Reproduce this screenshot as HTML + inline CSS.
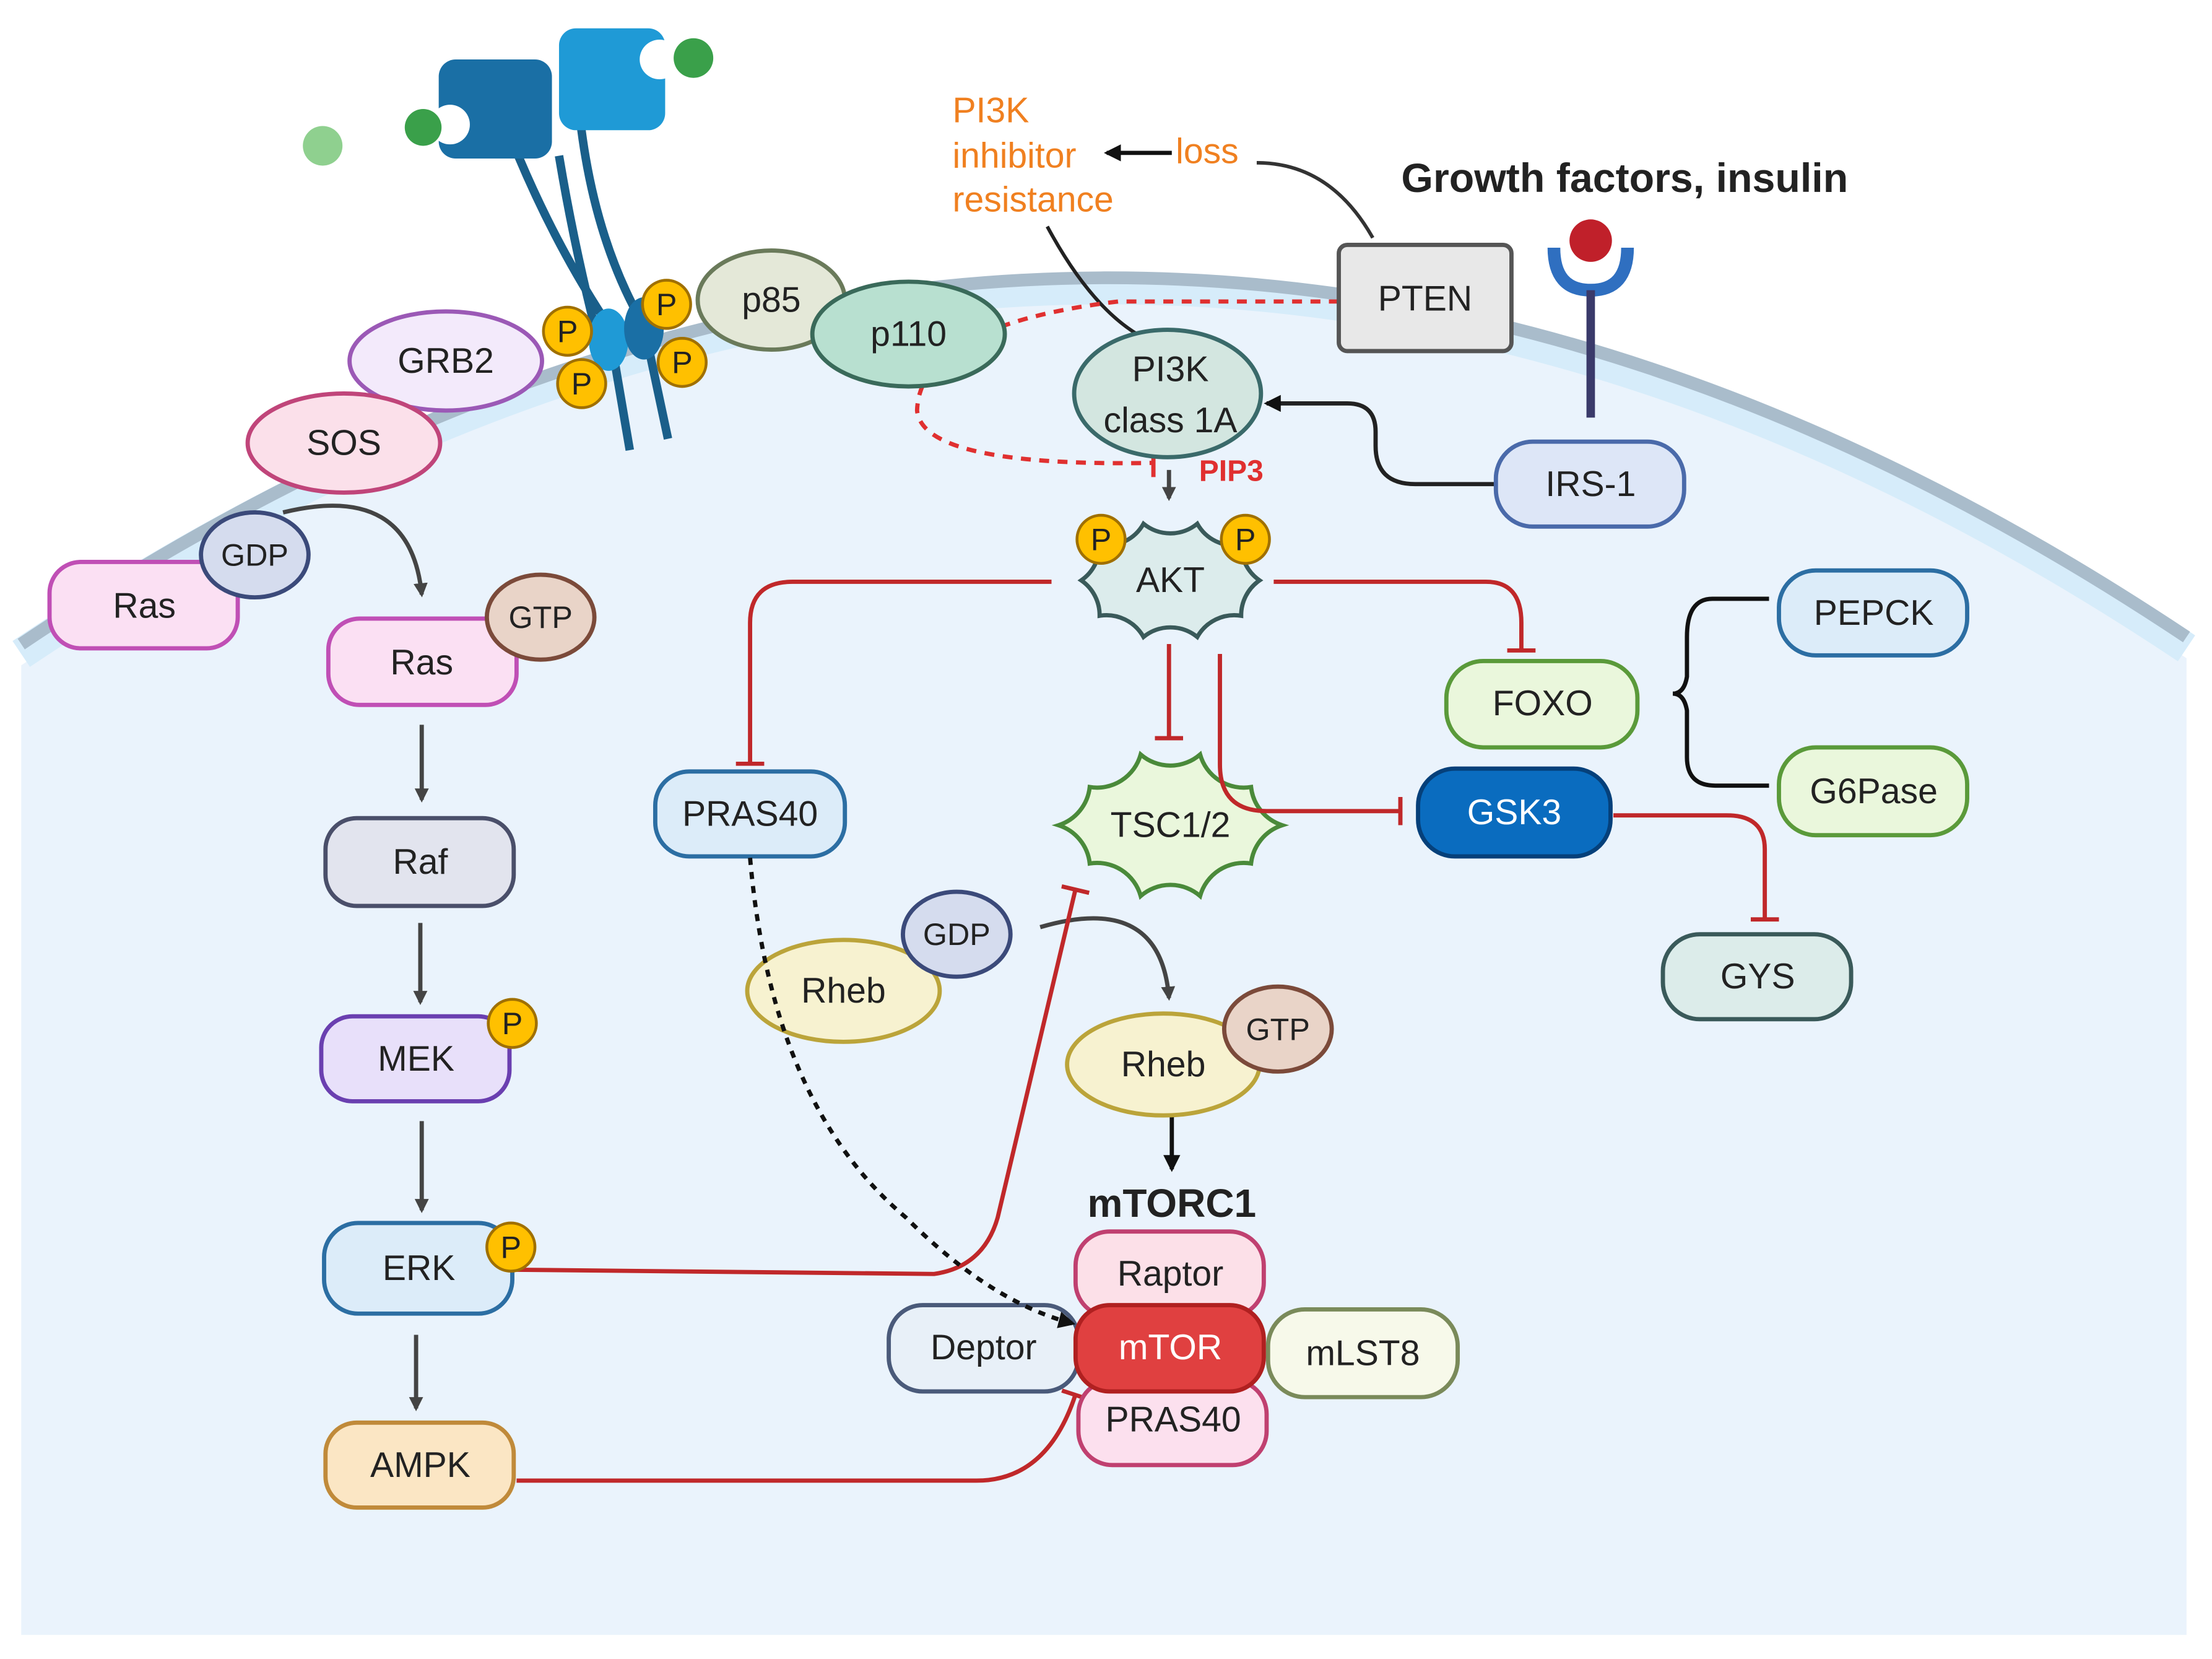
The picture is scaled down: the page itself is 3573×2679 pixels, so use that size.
<!DOCTYPE html>
<html><head><meta charset="utf-8"><style>
html,body{margin:0;padding:0;background:#fff}
svg{display:block}
text{font-family:"Liberation Sans",sans-serif;font-size:25px;fill:#222;text-anchor:middle;dominant-baseline:central}
</style></head><body>
<svg width="3573" height="2679" viewBox="0 0 1563 1172" preserveAspectRatio="none" xmlns="http://www.w3.org/2000/svg">
<defs>
<marker id="ag" markerWidth="10" markerHeight="10" refX="8" refY="5" orient="auto" markerUnits="userSpaceOnUse"><path d="M0,0 L10,5 L0,10 Z" fill="#444"/></marker>
<marker id="ak" markerWidth="12" markerHeight="12" refX="10" refY="6" orient="auto" markerUnits="userSpaceOnUse"><path d="M0,0 L12,6 L0,12 Z" fill="#111"/></marker>
<marker id="bar" markerWidth="4" markerHeight="20" refX="2" refY="10" orient="auto" markerUnits="userSpaceOnUse"><rect x="0" y="0" width="3" height="20" fill="#c0282a"/></marker>
</defs>
<rect width="1563" height="1172" fill="#fff"/>
<path d="M15,470 Q780,-45 1545,465 L1545,1155 L15,1155 Z" fill="#eaf3fc"/>
<path d="M15,462 Q780,-52 1545,458" fill="none" stroke="#d6ecfa" stroke-width="22"/>
<path d="M15,455 Q780,-60 1545,450" fill="none" stroke="#a9bccb" stroke-width="9"/>

<g stroke="#1a5f8a" stroke-width="6" fill="none">
<path d="M360,95 Q390,170 430,230 L445,318"/><path d="M410,85 Q420,170 455,230 L472,310"/>
<path d="M395,110 Q405,170 420,230"/>
</g>
<rect x="310" y="42" width="80" height="70" rx="12" fill="#1a6fa5"/>
<rect x="395" y="20" width="75" height="72" rx="12" fill="#1f9ad6"/>
<circle cx="318" cy="88" r="14" fill="#fff"/><circle cx="466" cy="42" r="14" fill="#fff"/>
<ellipse cx="430" cy="240" rx="14" ry="22" fill="#1f9ad6"/><ellipse cx="455" cy="232" rx="14" ry="22" fill="#1a6fa5"/>
<circle cx="228" cy="103" r="14" fill="#8fd08f"/><circle cx="299" cy="90" r="13" fill="#3aa04a"/><circle cx="490" cy="41" r="14" fill="#3aa04a"/>

<path d="M1098,175 Q1098,205 1124,205 Q1150,205 1150,175" fill="none" stroke="#2f6fc0" stroke-width="9"/>
<line x1="1124" y1="205" x2="1124" y2="295" stroke="#3a3a6a" stroke-width="6"/>
<circle cx="1124" cy="170" r="15" fill="#c0202a"/>
<text x="1148" y="126" style="font-weight:bold;font-size:29px">Growth factors, insulin</text>

<text x="673" y="78" style="text-anchor:start;fill:#f08020">PI3K</text>
<text x="673" y="110" style="text-anchor:start;fill:#f08020">inhibitor</text>
<text x="673" y="141" style="text-anchor:start;fill:#f08020">resistance</text>
<text x="853" y="107" style="fill:#f08020">loss</text>
<line x1="828" y1="108" x2="782" y2="108" stroke="#111" stroke-width="3" marker-end="url(#ak)"/>
<path d="M970,168 Q940,115 888,115" fill="none" stroke="#333" stroke-width="2.5"/>
<path d="M740,160 Q775,225 815,242" fill="none" stroke="#222" stroke-width="2.5"/>

<g stroke="#444" stroke-width="3" fill="none" marker-end="url(#ag)">
<path d="M200,362 Q290,340 298,420"/>
<path d="M298,512 L298,565"/><path d="M297,652 L297,708"/><path d="M298,792 L298,855"/><path d="M294,943 L294,995"/>
<path d="M735,655 Q820,630 826,705"/>
<path d="M826,332 L826,352"/>
</g>
<path d="M828,775 L828,826" stroke="#111" stroke-width="3" marker-end="url(#ak)"/>
<path d="M1057,342 L1000,342 Q972,342 972,315 L972,305 Q972,285 952,285 L895,285" fill="none" stroke="#222" stroke-width="3" marker-end="url(#ak)"/>

<g stroke="#c0282a" stroke-width="3" fill="none" marker-end="url(#bar)">
<path d="M743,411 L560,411 Q530,411 530,440 L530,540"/>
<path d="M900,411 L1050,411 Q1075,411 1075,440 L1075,460"/>
<path d="M826,455 L826,522"/>
<path d="M1140,576 L1220,576 Q1247,576 1247,600 L1247,650"/>
<path d="M365,1046 L690,1046 Q740,1046 760,985"/>
</g>
<path d="M946,213 L790,213 Q650,230 648,290 Q652,330 815,327" fill="none" stroke="#e03030" stroke-width="3" stroke-dasharray="7,6"/>
<line x1="815" y1="318" x2="815" y2="337" stroke="#e03030" stroke-width="3"/>
<text x="870" y="333" style="fill:#e03030;font-weight:bold;font-size:21px">PIP3</text>
<path d="M1250,423 L1210,423 Q1192,423 1192,450 L1192,478 Q1190,490 1182,490 Q1190,490 1192,502 L1192,535 Q1192,555 1212,555 L1250,555" fill="none" stroke="#111" stroke-width="3"/>

<g stroke-width="3">
<ellipse cx="315" cy="255" rx="68" ry="35" fill="#f3eafb" stroke="#9b59b6"/>
<ellipse cx="243" cy="313" rx="68" ry="35" fill="#fbe0ea" stroke="#c0457a"/>
<rect x="35" y="397" width="133" height="61" rx="22" fill="#fbe0f3" stroke="#c04fb5"/>
<ellipse cx="180" cy="392" rx="38" ry="30" fill="#d5dcee" stroke="#3b4a7a"/>
<rect x="232" y="437" width="133" height="61" rx="22" fill="#fbe0f3" stroke="#c04fb5"/>
<ellipse cx="382" cy="436" rx="38" ry="30" fill="#e9d4c8" stroke="#7b4a3a"/>
<rect x="230" y="578" width="133" height="62" rx="22" fill="#e2e4ee" stroke="#4a4f6a"/>
<rect x="227" y="718" width="133" height="60" rx="22" fill="#e8e0fa" stroke="#6a3fb0"/>
<rect x="229" y="864" width="133" height="64" rx="24" fill="#dcecf9" stroke="#2c6ea3"/>
<rect x="230" y="1005" width="133" height="60" rx="22" fill="#fbe6c4" stroke="#c08a3a"/>
<rect x="463" y="545" width="134" height="60" rx="24" fill="#dcecf9" stroke="#2c6ea3"/>
<ellipse cx="596" cy="700" rx="68" ry="36" fill="#f7f2d0" stroke="#bba43a"/>
<ellipse cx="676" cy="660" rx="38" ry="30" fill="#d5dcee" stroke="#3b4a7a"/>
<ellipse cx="822" cy="752" rx="68" ry="36" fill="#f7f2d0" stroke="#bba43a"/>
<ellipse cx="903" cy="727" rx="38" ry="30" fill="#e9d4c8" stroke="#7b4a3a"/>
<rect x="760" y="870" width="133" height="60" rx="24" fill="#fce0e8" stroke="#c04070"/>
<rect x="762" y="975" width="133" height="60" rx="24" fill="#fce0ee" stroke="#c04070"/>
<rect x="628" y="922" width="134" height="61" rx="24" fill="#e8f0f8" stroke="#4a5a7a"/>
<rect x="896" y="925" width="134" height="62" rx="26" fill="#f7f9ea" stroke="#7a8a5a"/>
<rect x="760" y="922" width="133" height="61" rx="24" fill="#e04040" stroke="#b02020"/>
<path d="M890,410 A30,30 0 0 0 877,435 A30,30 0 0 0 846,450 A30,30 0 0 0 808,450 A30,30 0 0 0 777,435 A30,30 0 0 0 764,410 A30,30 0 0 0 777,385 A30,30 0 0 0 808,370 A30,30 0 0 0 846,370 A30,30 0 0 0 877,385 A30,30 0 0 0 890,410Z" fill="#dcecec" stroke="#3a5a5a"/>
<path d="M906,583 A32,32 0 0 0 884,610 A32,32 0 0 0 848,633 A32,32 0 0 0 806,633 A32,32 0 0 0 770,610 A32,32 0 0 0 748,583 A32,32 0 0 0 770,556 A32,32 0 0 0 806,533 A32,32 0 0 0 848,533 A32,32 0 0 0 884,556 A32,32 0 0 0 906,583Z" fill="#eaf7dc" stroke="#4a8a3a"/>
<rect x="1022" y="467" width="135" height="61" rx="26" fill="#eaf7dc" stroke="#5a9a3a"/>
<rect x="1002" y="543" width="136" height="62" rx="26" fill="#0a6cbf" stroke="#05407a"/>
<rect x="1175" y="660" width="133" height="60" rx="26" fill="#dcecea" stroke="#3a5a5a"/>
<rect x="1257" y="403" width="133" height="60" rx="26" fill="#dcecf9" stroke="#2c6ea3"/>
<rect x="1257" y="528" width="133" height="62" rx="26" fill="#eaf7dc" stroke="#5a9a3a"/>
<rect x="1057" y="312" width="133" height="60" rx="26" fill="#dde6f7" stroke="#4a6aaa"/>
<rect x="946" y="173" width="122" height="75" rx="6" fill="#e8e8e8" stroke="#555"/>
<ellipse cx="545" cy="212" rx="52" ry="35" fill="#e4e8d8" stroke="#6a7a5a"/>
<ellipse cx="642" cy="236" rx="68" ry="37" fill="#b8e0d0" stroke="#3a6a5a"/>
<ellipse cx="825" cy="278" rx="66" ry="45" fill="#d3e6e0" stroke="#3a6a6a"/>
</g>
<g stroke="#c0282a" stroke-width="3" fill="none" marker-end="url(#bar)">
<path d="M862,462 L862,540 Q862,573 895,573 L990,573"/>
<path d="M365,897 L660,900 Q695,895 705,860 L760,628"/>
</g>
<path d="M530,606 Q545,780 640,860 Q700,920 758,935" fill="none" stroke="#111" stroke-width="3" stroke-dasharray="5,5" marker-end="url(#ak)"/>
<g fill="#ffc000" stroke="#a07000" stroke-width="2">
<circle cx="401" cy="234" r="17"/><circle cx="471" cy="215" r="17"/><circle cx="411" cy="271" r="17"/><circle cx="482" cy="256" r="17"/>
<circle cx="362" cy="723" r="17"/><circle cx="361" cy="881" r="17"/><circle cx="778" cy="381" r="17"/><circle cx="880" cy="381" r="17"/>
</g>
<text x="401" y="234" style="font-size:22px">P</text><text x="471" y="215" style="font-size:22px">P</text><text x="411" y="271" style="font-size:22px">P</text><text x="482" y="256" style="font-size:22px">P</text>
<text x="362" y="723" style="font-size:22px">P</text><text x="361" y="881" style="font-size:22px">P</text><text x="778" y="381" style="font-size:22px">P</text><text x="880" y="381" style="font-size:22px">P</text>
<text x="315" y="255">GRB2</text><text x="243" y="313">SOS</text>
<text x="102" y="428">Ras</text><text x="180" y="392" style="font-size:22px">GDP</text>
<text x="298" y="468">Ras</text><text x="382" y="436" style="font-size:22px">GTP</text>
<text x="297" y="609">Raf</text><text x="294" y="748">MEK</text><text x="296" y="896">ERK</text><text x="297" y="1035">AMPK</text>
<text x="530" y="575">PRAS40</text>
<text x="596" y="700">Rheb</text><text x="676" y="660" style="font-size:22px">GDP</text>
<text x="822" y="752">Rheb</text><text x="903" y="727" style="font-size:22px">GTP</text>
<text x="828" y="850" style="font-weight:bold;font-size:28px">mTORC1</text>
<text x="827" y="900">Raptor</text><text x="829" y="1003">PRAS40</text><text x="695" y="952">Deptor</text>
<text x="963" y="956">mLST8</text><text x="827" y="952" style="fill:#fff">mTOR</text>
<text x="827" y="410">AKT</text><text x="827" y="583">TSC1/2</text>
<text x="1090" y="497">FOXO</text><text x="1070" y="574" style="fill:#fff">GSK3</text>
<text x="1242" y="690">GYS</text><text x="1324" y="433">PEPCK</text><text x="1324" y="559">G6Pase</text>
<text x="1124" y="342">IRS-1</text><text x="1007" y="211">PTEN</text>
<text x="545" y="212">p85</text><text x="642" y="236">p110</text>
<text x="827" y="261">PI3K</text><text x="827" y="297">class 1A</text>
</svg>
</body></html>
